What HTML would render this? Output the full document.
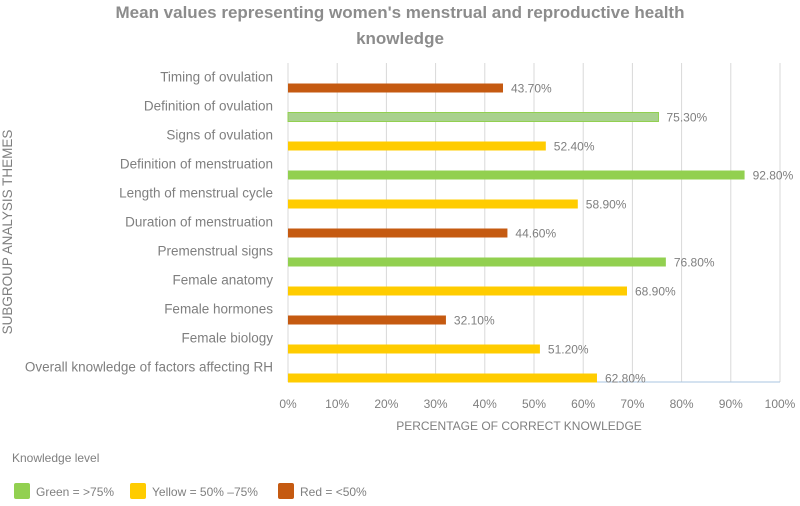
<!DOCTYPE html>
<html><head><meta charset="utf-8"><style>
body{margin:0;background:#fff;font-family:"Liberation Sans",sans-serif;}
svg text{font-family:"Liberation Sans",sans-serif;}
</style></head><body>
<svg width="800" height="501" viewBox="0 0 800 501">
<text x="400" y="18" text-anchor="middle" font-size="17" font-weight="bold" fill="#8c8c8c">Mean values representing women's menstrual and reproductive health</text>
<text x="400" y="44" text-anchor="middle" font-size="17" font-weight="bold" fill="#8c8c8c">knowledge</text>
<g id="grid"></g><g id="bars"></g><g id="labels"></g>
<text x="0" y="0" transform="translate(12,232) rotate(-90)" text-anchor="middle" font-size="13.5" fill="#7f7f7f">SUBGROUP ANALYSIS THEMES</text>
<text x="519" y="430" text-anchor="middle" font-size="12" fill="#7f7f7f">PERCENTAGE OF CORRECT KNOWLEDGE</text>
<text x="12" y="462" font-size="12" fill="#7f7f7f">Knowledge level</text>
<g><rect x="14" y="483" width="16" height="16" rx="2" fill="#92d050"/><text x="36" y="496" font-size="12" fill="#7f7f7f">Green = &gt;75%</text></g>
<g><rect x="130" y="483" width="16" height="16" rx="2" fill="#ffcc00"/><text x="152" y="496" font-size="12" fill="#7f7f7f">Yellow = 50% –75%</text></g>
<g><rect x="278" y="483" width="16" height="16" rx="2" fill="#c55a11"/><text x="300" y="496" font-size="12" fill="#7f7f7f">Red = &lt;50%</text></g>
</svg>
<script>
const categories=["Timing of ovulation","Definition of ovulation","Signs of ovulation","Definition of menstruation","Length of menstrual cycle","Duration of menstruation","Premenstrual signs","Female anatomy","Female hormones","Female biology","Overall knowledge of factors affecting RH"];
const values=[43.7,75.3,52.4,92.8,58.9,44.6,76.8,68.9,32.1,51.2,62.8];
const valueLabels=["43.70%","75.30%","52.40%","92.80%","58.90%","44.60%","76.80%","68.90%","32.10%","51.20%","62.80%"];
const ticks=[0,10,20,30,40,50,60,70,80,90,100];
const NS="http://www.w3.org/2000/svg";
const x0=288,x1=780,yTop=63,yBottom=382,band=(yBottom-yTop)/categories.length;
const xs=v=>x0+(x1-x0)*v/100;
const grid=document.getElementById('grid'),bars=document.getElementById('bars'),labs=document.getElementById('labels');
function mk(tag,attrs,parent){const e=document.createElementNS(NS,tag);for(const k in attrs)e.setAttribute(k,attrs[k]);parent.appendChild(e);return e;}
ticks.forEach(t=>{
 const l=mk('line',{x1:xs(t),x2:xs(t),y1:yTop,y2:yBottom,stroke:'#d9d9d9','stroke-width':1},grid);
 
 
 const tx=mk('text',{x:xs(t),y:408,'text-anchor':'middle','font-size':12,fill:'#7f7f7f'},grid);
 tx.textContent=t+'%';
 
 
});
const ax=mk('line',{x1:x0,x2:x1,y1:yBottom,y2:yBottom,stroke:'#a9c4e0','stroke-width':1},grid);


function color(v,i){if(v>75)return i===1?'#a9d18e':'#92d050';if(v>=50)return '#ffcc00';return '#c55a11';}
categories.forEach((c,i)=>{
 const cy=yTop+band*i+band/2;
 const r=mk('rect',{x:x0,y:cy+6,width:xs(values[i])-x0,height:9,fill:color(values[i],i)},bars);
 if(i===1){r.setAttribute('stroke','#92d050');r.setAttribute('stroke-width','1');}
 
 
 const cl=mk('text',{x:273,y:cy+4,'text-anchor':'end','font-size':13.5,fill:'#7f7f7f'},labs);
 cl.textContent=c;
 
 
 const vl=mk('text',{x:xs(values[i])+8,y:cy+15,'font-size':12,fill:'#7f7f7f'},labs);
 vl.textContent=valueLabels[i];
 
 
});
</script>
</body></html>
